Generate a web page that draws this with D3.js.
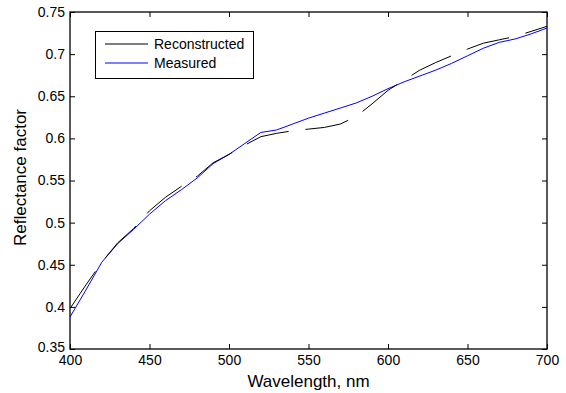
<!DOCTYPE html>
<html>
<head>
<meta charset="utf-8">
<script src="https://cdn.jsdelivr.net/npm/d3@7"></script>
<style>
  body { margin: 0; background: #fff; }
  text { font-family: "Liberation Sans", Arial, sans-serif; fill: #000; }
</style>
</head>
<body>
<div id="chart"></div>
<script>
const wavelengths = [400, 410, 420, 430, 440, 450, 460, 470, 480, 490, 500, 510, 520, 530, 540, 550,
  560, 570, 580, 590, 600, 610, 620, 630, 640, 650, 660, 670, 680, 690, 700];
const reconstructed = [0.398, 0.426, 0.453, 0.476, 0.493, 0.514, 0.530, 0.543, 0.555, 0.571, 0.581,
  0.592, 0.602, 0.606, 0.609, 0.611, 0.613, 0.617, 0.626, 0.641, 0.657, 0.669, 0.681, 0.690,
  0.698, 0.706, 0.713, 0.717, 0.721, 0.727, 0.733];
const measured = [0.388, 0.420, 0.453, 0.475, 0.492, 0.510, 0.526, 0.539, 0.553, 0.570, 0.581,
  0.594, 0.607, 0.610, 0.617, 0.624, 0.630, 0.636, 0.642, 0.650, 0.659, 0.667, 0.674, 0.681,
  0.689, 0.698, 0.707, 0.714, 0.718, 0.724, 0.731];
const xTicks = [400, 450, 500, 550, 600, 650, 700];
const yTicks = [0.35, 0.4, 0.45, 0.5, 0.55, 0.6, 0.65, 0.7, 0.75];
const seriesNames = ["Reconstructed", "Measured"];

const W = 566, H = 393;
const mLeft = 70, mRight = 547, mTop = 12, mBottom = 349;

const svg = d3.select("#chart").append("svg")
  .attr("width", W).attr("height", H);

const x = d3.scaleLinear().domain([400, 700]).range([mLeft, mRight]);
const y = d3.scaleLinear().domain([0.35, 0.75]).range([mBottom, mTop]);

// axes box with inward ticks
svg.append("g")
  .attr("transform", `translate(0,${mBottom})`)
  .call(d3.axisBottom(x).tickValues(xTicks).tickSizeInner(-5).tickSizeOuter(0).tickPadding(6).tickFormat(d3.format("d")))
  .call(g => g.select(".domain").remove())
  .selectAll("text").style("font-size", "14px");
svg.append("g")
  .attr("transform", `translate(0,${mTop})`)
  .call(d3.axisTop(x).tickValues(xTicks).tickSizeInner(-5).tickSizeOuter(0).tickFormat(""))
  .call(g => g.select(".domain").remove());
svg.append("g")
  .attr("transform", `translate(${mLeft},0)`)
  .call(d3.axisLeft(y).tickValues(yTicks).tickSizeInner(-5).tickSizeOuter(0).tickPadding(5).tickFormat(d => String(+d.toFixed(2))))
  .call(g => g.select(".domain").remove())
  .call(g => g.selectAll(".tick").filter(d => d === 0.35).select("text").attr("y", -2))
  .selectAll("text").style("font-size", "14px");
svg.append("g")
  .attr("transform", `translate(${mRight},0)`)
  .call(d3.axisRight(y).tickValues(yTicks).tickSizeInner(-5).tickSizeOuter(0).tickFormat(""))
  .call(g => g.select(".domain").remove());
svg.selectAll(".tick line").attr("stroke", "#000");

svg.append("rect")
  .attr("x", mLeft).attr("y", mTop)
  .attr("width", mRight - mLeft).attr("height", mBottom - mTop)
  .attr("fill", "none").attr("stroke", "#000").attr("stroke-width", 1.3);

// lines
const line = d3.line().x(d => x(d[0])).y(d => y(d[1]));
const recPts = wavelengths.map((w, i) => [w, reconstructed[i]]);
const meaPts = wavelengths.map((w, i) => [w, measured[i]]);

svg.append("path").datum(meaPts)
  .attr("fill", "none").attr("stroke", "#0000ff").attr("stroke-width", 1)
  .attr("d", line);

// dash phase: a dash starts near 584 nm
const dashOn = 44, dashOff = 17, period = dashOn + dashOff, anchor = 584;
let L0 = 0;
for (let i = 1; i < recPts.length && recPts[i - 1][0] < anchor; i++) {
  const a = recPts[i - 1], b = recPts[i];
  const t = Math.min(1, (anchor - a[0]) / (b[0] - a[0]));
  const dx = (x(b[0]) - x(a[0])) * t, dy = (y(b[1]) - y(a[1])) * t;
  L0 += Math.hypot(dx, dy);
}
svg.append("path").datum(recPts)
  .attr("fill", "none").attr("stroke", "#000").attr("stroke-width", 1)
  .attr("stroke-dasharray", `${dashOn},${dashOff}`)
  .attr("stroke-dashoffset", period - (L0 % period))
  .attr("d", line);

// labels
svg.append("text")
  .attr("x", (mLeft + mRight) / 2).attr("y", 387)
  .attr("text-anchor", "middle").style("font-size", "17px")
  .text("Wavelength, nm");
svg.append("text")
  .attr("transform", `translate(26,${(mTop + mBottom) / 2 - 3}) rotate(-90)`)
  .attr("text-anchor", "middle").style("font-size", "17px")
  .text("Reflectance factor");

// legend
const lg = svg.append("g");
lg.append("rect")
  .attr("x", 95.5).attr("y", 31.5).attr("width", 158).attr("height", 47)
  .attr("fill", "#fff").attr("stroke", "#000").attr("stroke-width", 1);
const colors = ["#000", "#0000ff"];
seriesNames.forEach((name, i) => {
  const yy = 44 + i * 19;
  lg.append("line").attr("x1", 105).attr("x2", 148).attr("y1", yy).attr("y2", yy)
    .attr("stroke", colors[i]).attr("stroke-width", 1);
  lg.append("text").attr("x", 154).attr("y", yy + 5)
    .style("font-size", "14px").text(name);
});
</script>
</body>
</html>
